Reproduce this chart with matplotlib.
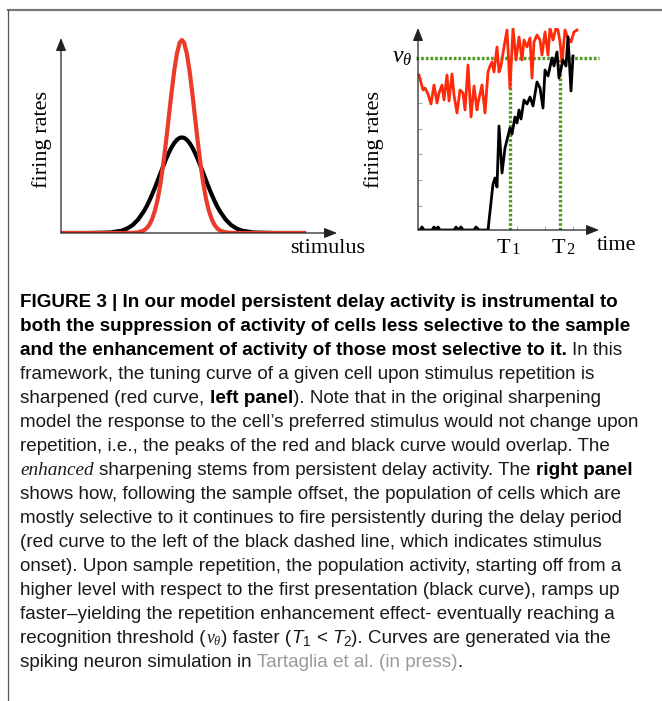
import matplotlib
matplotlib.use("Agg")
import matplotlib.pyplot as plt
from matplotlib import font_manager
from matplotlib.lines import Line2D

W, H = 662, 701

# left panel: tuning curves (stimulus and rate in arbitrary units 0-100)
stim = [0, 10, 18, 22, 24, 26, 28, 30, 31, 32, 33, 34, 35, 36, 37, 38, 39, 40,
        41, 42, 43, 43.8, 44.6, 45.6, 46.6, 47.6, 48.6, 49.6, 50.6, 51.6, 52.6,
        53.6, 54.6, 55.6, 56.6, 57.6, 59.6, 61.6, 63.6, 65.6, 69.6, 77.6, 88.8]
rate_first = [0, 0, 0.27, 1.2, 2.3, 4.1, 7.0, 11.1, 13.6, 16.5, 19.7, 23.1, 26.8,
              30.5, 34.1, 37.7, 40.9, 43.8, 46.1, 47.8, 48.8, 49, 48.8, 47.8, 46.1,
              43.8, 40.9, 37.7, 34.1, 30.5, 26.8, 23.1, 19.7, 16.5, 13.6, 11.1, 7.0,
              4.1, 2.3, 1.2, 0.27, 0, 0]
rate_repeat = [0, 0, 0, 0, 0, 0.08, 0.35, 1.3, 2.4, 4.2, 7.1, 11.3, 17.1, 25.0,
               34.8, 46.2, 58.8, 71.4, 82.9, 92.0, 97.6, 99, 97.6, 92.0, 82.9, 71.4,
               58.8, 46.2, 34.8, 25.0, 17.1, 11.3, 7.1, 4.2, 2.4, 1.3, 0.35, 0.08,
               0, 0, 0, 0, 0]

# right panel: population rates over time
t_first = [0, 2, 4, 6, 14, 16, 18, 20, 22, 36, 38, 40, 43, 45, 56, 58, 61, 70,
           75, 77, 79, 81, 84, 87, 89, 92, 94, 97, 99, 101, 103, 106, 109, 112,
           115, 119, 122, 125, 127, 130, 134, 136, 139, 141, 145, 148, 150, 153, 155]
r_first = [0, 0, 3, 0, 0, 3, 0, 3, 0, 0, 3, 0, 3, 0, 0, 3, 0, 0,
           46, 52, 43, 104, 57, 82, 90, 102, 96, 113, 107, 120, 111, 130, 126, 133,
           124, 148, 142, 122, 160, 154, 172, 164, 178, 152, 170, 164, 193, 139, 174]
t_repeat = [1, 5, 7, 10, 13, 16, 19, 21, 24, 26, 29, 31, 34, 36, 39, 42, 45, 47,
            50, 53, 56, 59, 60, 64, 67, 70, 72, 74, 76, 79, 81, 83, 86, 89, 92, 95,
            98, 101, 104, 106, 109, 112, 114, 116, 119, 122, 124, 127, 130, 132,
            135, 138, 140, 142, 144, 147, 150, 153, 156, 159]
r_repeat = [155, 140, 142, 136, 126, 145, 127, 137, 145, 130, 155, 129, 156, 135,
            117, 140, 137, 120, 165, 113, 144, 120, 127, 145, 117, 158, 164, 168,
            158, 183, 158, 164, 183, 200, 142, 202, 170, 193, 170, 190, 183, 192,
            152, 188, 195, 190, 175, 198, 175, 202, 190, 202, 200, 188, 167, 200,
            192, 188, 198, 200]
threshold = 172
T1, T2 = 92, 142
xticks_right = [15, 43, 71, 99, 127, 155]
yticks_right = [24, 50, 76, 101, 127, 152]

caption = [
    [("FIGURE 3 | In our model persistent delay activity is instrumental to", "b")],
    [("both the suppression of activity of cells less selective to the sample", "b")],
    [("and the enhancement of activity of those most selective to it.", "b"), (" In this", "r")],
    [("framework, the tuning curve of a given cell upon stimulus repetition is", "r")],
    [("sharpened (red curve, ", "r"), ("left panel", "b"), ("). Note that in the original sharpening", "r")],
    [("model the response to the cell\u2019s preferred stimulus would not change upon", "r")],
    [("repetition, i.e., the peaks of the red and black curve would overlap. The", "r")],
    [("enhanced", "si"), (" sharpening stems from persistent delay activity. The ", "r"), ("right panel", "b")],
    [("shows how, following the sample offset, the population of cells which are", "r")],
    [("mostly selective to it continues to fire persistently during the delay period", "r")],
    [("(red curve to the left of the black dashed line, which indicates stimulus", "r")],
    [("onset). Upon sample repetition, the population activity, starting off from a", "r")],
    [("higher level with respect to the first presentation (black curve), ramps up", "r")],
    [("faster\u2013yielding the repetition enhancement effect- eventually reaching a", "r")],
    [("recognition threshold (", "r"), (r"$\nu_\theta$", "m"), (") faster (", "r"), ("T", "i"), ("1", "sub"),
     (" < ", "r"), ("T", "i"), ("2", "sub"), ("). Curves are generated via the", "r")],
    [("spiking neuron simulation in ", "r"), ("Tartaglia et al. (in press)", "g"), (".", "r")],
]

plt.rcParams['mathtext.fontset'] = 'custom'
plt.rcParams['mathtext.rm'] = 'Liberation Serif'
plt.rcParams['mathtext.it'] = 'Liberation Serif:italic'

serif = 'Liberation Serif'
names = {f.name for f in font_manager.fontManager.ttflist}
sans = 'Liberation Sans Narrow' if 'Liberation Sans Narrow' in names else 'Liberation Sans'

fig = plt.figure(figsize=(W / 100, H / 100), dpi=100)
fig.patch.set_facecolor('white')

# frame lines
fig.add_artist(Line2D([8 / W, 1], [1 - 10 / H, 1 - 10 / H], color='#777777', lw=1.6))
fig.add_artist(Line2D([8 / W, 8 / W], [1 - 10 / H, 0], color='#555555', lw=0.9))


def arrows(ax):
    for end in [(1, 0), (0, 1)]:
        ax.annotate('', xy=end, xytext=(0, 0), xycoords='axes fraction',
                    arrowprops=dict(arrowstyle='-|>,head_length=0.55,head_width=0.22',
                                    color='#222222', lw=0.9, shrinkA=0, shrinkB=0,
                                    mutation_scale=14))
    for s in ax.spines.values():
        s.set_visible(False)


# left panel
ax1 = fig.add_axes([61 / W, 1 - 233 / H, 276 / W, 195 / H])
ax1.plot(stim, rate_first, color='black', lw=3.0, solid_capstyle='butt')
ax1.plot(stim, rate_repeat, color='#ea3b2b', lw=3.0, solid_capstyle='butt')
ax1.set_xlim(0, 100)
ax1.set_ylim(0, 100)
ax1.set_xticks([])
ax1.set_yticks([])
arrows(ax1)
ax1.patch.set_alpha(0)

# right panel
ax2 = fig.add_axes([418 / W, 1 - 230 / H, 181 / W, 202 / H])
green = '#4f9a1c'
ax2.plot([-2, 181], [threshold, threshold], color=green, lw=2.4, ls=(0, (0.8, 0.6)), clip_on=False)
ax2.plot([T1, T1], [0, threshold], color=green, lw=2.4, ls=(0, (0.8, 0.6)))
ax2.plot([T2, T2], [0, threshold], color=green, lw=2.4, ls=(0, (0.8, 0.6)))
ax2.plot(t_repeat, r_repeat, color='#ff2a0a', lw=2.0)
ax2.plot(t_first, r_first, color='black', lw=2.0)
ax2.set_xlim(0, 181)
ax2.set_ylim(0, 202)
ax2.set_xticks(xticks_right)
ax2.set_yticks(yticks_right)
ax2.tick_params(direction='in', length=3, width=0.8, color='#aaaaaa',
                labelbottom=False, labelleft=False)
arrows(ax2)
ax2.patch.set_alpha(0)

# panel labels
lab = dict(family=serif, fontsize=16, color='black')
fig.text(42 / W, 1 - 140 / H, 'firing rates', rotation=90, ha='center', va='center', **lab)
fig.text(374 / W, 1 - 140 / H, 'firing rates', rotation=90, ha='center', va='center', **lab)
fig.text(290 / W, 1 - 253 / H, 'stimulus', ha='left', va='baseline', **lab)
fig.text(597 / W, 1 - 250 / H, 'time', ha='left', va='baseline', **lab)
for xp, num in [(497, '1'), (552, '2')]:
    fig.text(xp / W, 1 - 253 / H, 'T', ha='left', va='baseline', **lab)
    fig.text((xp + 14.5) / W, 1 - 254 / H, num, ha='left', va='baseline',
             family=serif, fontsize=12, color='black')
fig.text(412 / W, 1 - 63 / H, r'$\nu_\theta$', ha='right', va='baseline', family=serif, fontsize=17)

# caption
renderer = fig.canvas.get_renderer()


def seg_style(kind, size):
    st = dict(family=sans, fontsize=size, color='#1a1a1a')
    if kind == 'b':
        st['weight'] = 'bold'
        st['color'] = 'black'
    elif kind == 'i':
        st['style'] = 'italic'
    elif kind == 'si':
        st['family'] = serif
        st['style'] = 'italic'
        st['fontsize'] = size * 1.02
    elif kind == 'g':
        st['color'] = '#9a9a9a'
    elif kind == 'sub':
        st['fontsize'] = size * 0.72
    elif kind == 'm':
        st['fontsize'] = size * 0.95
    return st


def width_of(s, st):
    t = fig.text(0, 0, s, **st)
    w = t.get_window_extent(renderer).width
    t.remove()
    return w


# fit font size to the widest plain line
size = 12.0
target = 623.0
w = width_of(caption[5][0][0], seg_style('r', size))
size = size * target / w

space = width_of('a a', seg_style('r', size)) - width_of('aa', seg_style('r', size))
bspace = width_of('a a', seg_style('b', size)) - width_of('aa', seg_style('b', size))

x0, y0, dy = 20.0, 307.0, 24.0
for i, line in enumerate(caption):
    x = x0
    y = H - (y0 + i * dy)
    for txt, kind in line:
        st = seg_style(kind, size)
        sp = bspace if kind == 'b' else space
        core = txt.strip(' ')
        lead = len(txt) - len(txt.lstrip(' '))
        trail = len(txt) - len(txt.rstrip(' '))
        x += lead * sp
        yy = y - 3 if kind == 'sub' else y
        t = fig.text(x / W, yy / H, core, ha='left', va='baseline', **st)
        x = t.get_window_extent(renderer).x1 + trail * sp

fig.savefig('out.png', dpi=100, facecolor='white')
